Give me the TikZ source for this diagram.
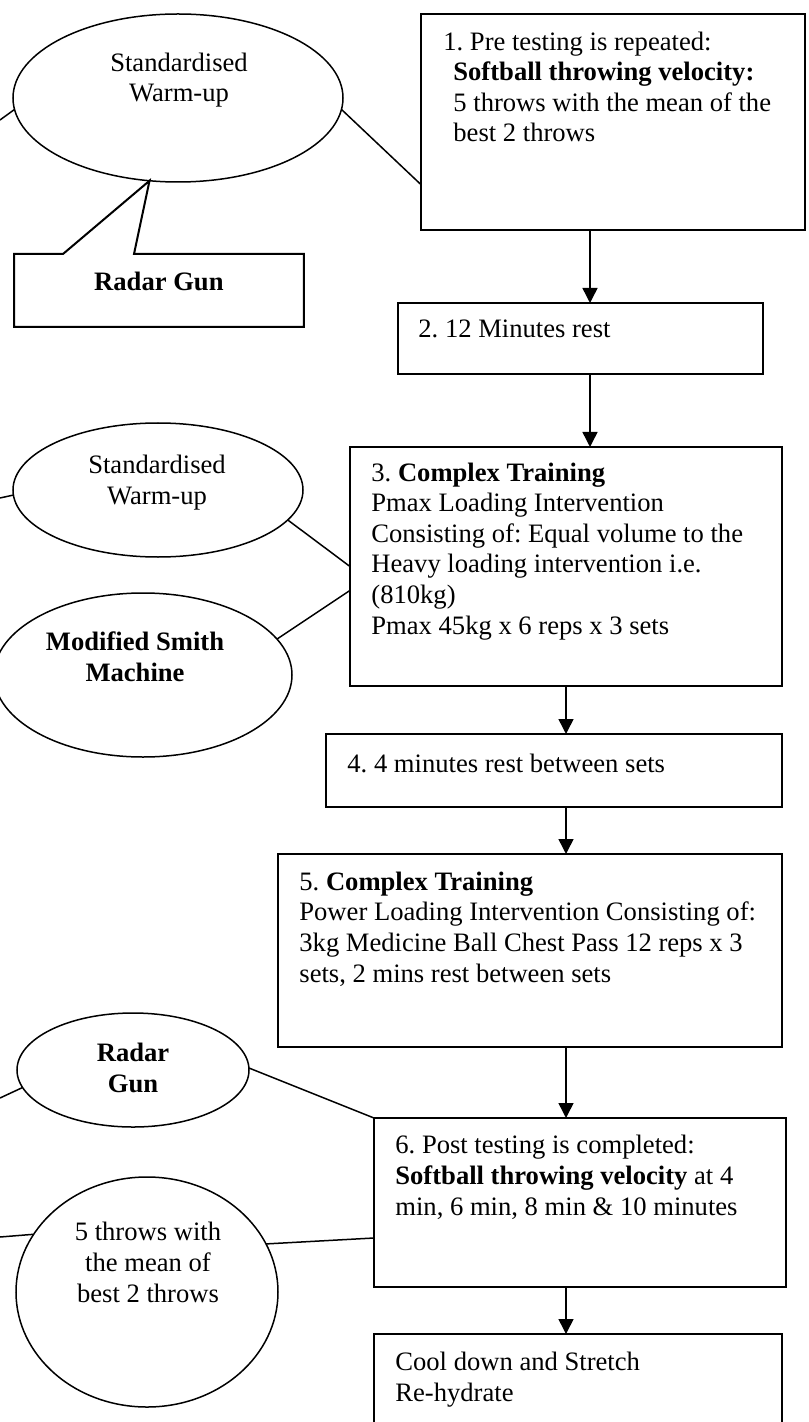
\documentclass[tikz,border=0pt]{standalone}
\usepackage{fontspec}
\setmainfont{Liberation Serif}
\usetikzlibrary{arrows.meta,calc,shapes.geometric}

\begin{document}
\frenchspacing
\begin{tikzpicture}[x=0.5pt,y=-0.5pt]
    \tikzset{BoxStyle/.style = {draw, line width=1pt, rectangle,
        anchor = north west,
        inner sep = 0pt, outer sep = 0pt},
      OvalStyle/.style = {draw, line width=0.75pt, ellipse,
        inner sep = 0pt, outer sep = 0pt},
      TextStyle/.style = {anchor=base west, align=left, inner sep=0pt,
        font = \fontsize{13.3}{15.3}\selectfont},
      MidStyle/.style = {anchor=base, align=center, inner sep=0pt,
        font = \fontsize{13.3}{15.3}\selectfont},
      EdgeStyle/.style = {-{Triangle[length=7.5pt,width=7.5pt]}, line width=0.75pt},
      LinkStyle/.style = {line width=0.75pt}}
    \useasboundingbox (0,0) rectangle (808,1422);
    \clip (0,0) rectangle (808,1422);
    \coordinate (Up) at (590,0);
    \coordinate (Low) at (566,0);
    \node[BoxStyle, minimum width=192pt, minimum height=108pt] (S1) at (421,14) {};
    \node[BoxStyle, minimum width=182.5pt, minimum height=35.5pt] (S2) at (398,303) {};
    \node[BoxStyle, minimum width=216pt, minimum height=119.5pt] (S3) at (350,447) {};
    \node[BoxStyle, minimum width=228pt, minimum height=36.5pt] (S4) at (326,734) {};
    \node[BoxStyle, minimum width=252pt, minimum height=96.5pt] (S5) at (278,854) {};
    \node[BoxStyle, minimum width=206pt, minimum height=84.5pt] (S6) at (374,1118) {};
    \node[BoxStyle, minimum width=204pt, minimum height=63pt] (S7) at (374,1334) {};
    \node[TextStyle] (S1x) at ($(S1.north west) + (32,128)$) {\hspace*{-5pt}1. Pre testing is repeated:\\
      \textbf{Softball throwing velocity:}\\5 throws with the mean of the\\best 2 throws};
    \node[TextStyle] (S2x) at ($(S2.north west) + (20,35)$) {2. 12 Minutes rest};
    \node[TextStyle] (S3x) at ($(S3.north west) + (21,187)$) {3. \textbf{Complex Training}\\
      Pmax Loading Intervention\\Consisting of: Equal volume to the\\
      Heavy loading intervention i.e.\\(810kg)\\Pmax 45kg x 6 reps x 3 sets};
    \node[TextStyle] (S4x) at ($(S4.north west) + (21,38)$) {4. 4 minutes rest between sets};
    \node[TextStyle] (S5x) at ($(S5.north west) + (21,128)$) {5. \textbf{Complex Training}\\
      Power Loading Intervention Consisting of:\\3kg Medicine Ball Chest Pass 12 reps x 3\\
      sets, 2 mins rest between sets};
    \node[TextStyle] (S6x) at ($(S6.north west) + (21,97)$) {6. Post testing is completed:\\
      \textbf{Softball throwing velocity} at 4\\min, 6 min, 8 min \& 10 minutes};
    \node[TextStyle] (S7x) at ($(S7.north west) + (21,67)$) {Cool down and Stretch\\Re-hydrate};
    \draw[EdgeStyle] (S1.south -| Up) -- (S2.north -| Up);
    \draw[EdgeStyle] (S2.south -| Up) -- (S3.north -| Up);
    \draw[EdgeStyle] (S3.south -| Low) -- (S4.north -| Low);
    \draw[EdgeStyle] (S4.south -| Low) -- (S5.north -| Low);
    \draw[EdgeStyle] (S5.south -| Low) -- (S6.north -| Low);
    \draw[EdgeStyle] (S6.south -| Low) -- (S7.north -| Low);
    \node[OvalStyle, minimum width=165pt, minimum height=84pt] (W1) at (178,98) {};
    \node[OvalStyle, minimum width=145pt, minimum height=67pt] (W2) at (158,490) {};
    \node[OvalStyle, minimum width=149pt, minimum height=82pt] (M) at (143,675) {};
    \node[OvalStyle, minimum width=116pt, minimum height=57pt] (R2) at (133,1070) {};
    \node[OvalStyle, minimum width=131pt, minimum height=115pt] (T) at (147,1292) {};
    \node[anchor=north west, minimum width=144.5pt, minimum height=36pt, inner sep=0pt] (R1) at (14,254) {};
    \node[MidStyle] (W1x) at ($(W1) + (1,4)$) {Standardised\\Warm-up};
    \node[MidStyle] (W2x) at ($(W2) + (-1,14)$) {Standardised\\Warm-up};
    \node[MidStyle] (Mx) at ($(M) + (-8,6)$) {\textbf{Modified Smith}\\\textbf{Machine}};
    \node[MidStyle] (R2x) at ($(R2) + (0,22)$) {\textbf{Radar}\\\textbf{Gun}};
    \node[MidStyle] (Tx) at ($(T) + (1,10)$) {5 throws with\\the mean of\\best 2 throws};
    \node[MidStyle] (R1x) at ($(R1.north) + (0,37)$) {\textbf{Radar Gun}};
    \coordinate (W1l) at (0,120);
    \coordinate (W2l) at (0,498);
    \coordinate (R2l) at (0,1098);
    \coordinate (Tl) at (0,1237);
    \draw[line width=1pt] ($(R1.north west) + (120,0)$) -- (R1.north east) -- (R1.south east)
      -- (R1.south west) -- (R1.north west) -- ($(R1.north west) + (49,0)$) -- (W1.251) -- cycle;
    \draw[LinkStyle] (W1l) -- (W1.184);
    \draw[LinkStyle] (W1.-4) -- ($(S1.north west)!0.79!(S1.south west)$);
    \draw[LinkStyle] (W2l) -- (W2.182);
    \draw[LinkStyle] (W2.-13) -- (S3.west);
    \draw[LinkStyle] (M.15) -- ($(S3.north west)!0.6!(S3.south west)$);
    \draw[LinkStyle] (R2l) -- (R2.189);
    \draw[LinkStyle] (R2.1) -- (S6.north west);
    \draw[LinkStyle] (Tl) -- (T.153);
    \draw[LinkStyle] (T.22) -- ($(S6.north west)!0.71!(S6.south west)$);
  \end{tikzpicture}
\end{document}
